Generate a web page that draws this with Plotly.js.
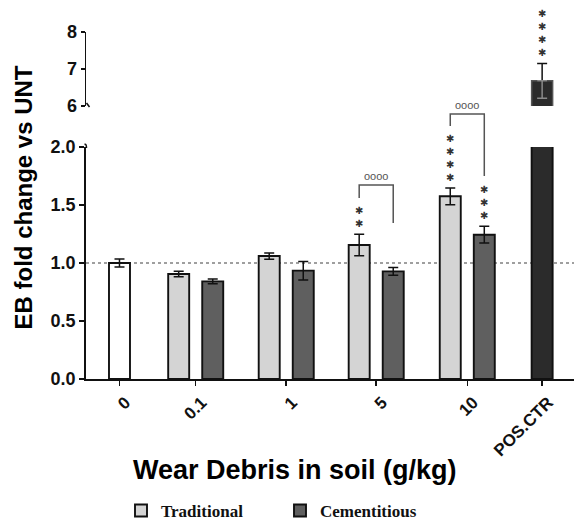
<!DOCTYPE html>
<html><head><meta charset="utf-8">
<script src="https://cdn.plot.ly/plotly-3.0.1.min.js"></script>
<style>html,body{margin:0;padding:0;background:#fff}#chart{width:574px;height:520px}</style>
</head><body><div id="chart"></div>
<script>
// ---------- data ----------
const doses = ['0', '0.1', '1', '5', '10', 'POS.CTR'];
const pairDoseIdx = [1, 2, 3, 4];              // doses that have Traditional / Cementitious bars
const untMean = [1.0];
const untErr = [0.034];
const tradMean = [0.905, 1.06, 1.155, 1.575];
const tradErr = [0.023, 0.027, 0.092, 0.072];
const cemMean = [0.842, 0.934, 0.928, 1.244];
const cemErr = [0.02, 0.08, 0.034, 0.072];
const posMean = [6.68];
const posErr = [0.47];
const tradStars = [0, 0, 2, 4];
const cemStars = [0, 0, 0, 3];
const posStars = 4;
const compLabel = ['', '', 'oooo', 'oooo'];   // Traditional vs Cementitious

// ---------- layout constants ----------
const W = 574, H = 520;
const M = {l: 86, r: 0, t: 32, b: 141};
const plotW = W - M.l - M.r, plotH = H - M.t - M.b;
const slotPos = [0, 0.842, 1.842, 2.836, 3.842, 4.669];
const xRange = [-0.370, 5.021];
const pairOff = 0.188, barW = 0.232;
const lowDom = [0, 0.6686], upDom = [0.7867, 1];
const lowRange = [0, 2], upRange = [6, 8];
// bracket levels (lower-axis units): [left leg end, top, right leg end]
const bracketLv = [null, null, [1.560, 1.672, 1.345], [2.181, 2.284, 1.75]];

const lowToPaper = v => lowDom[0] + (v - lowRange[0]) / (lowRange[1] - lowRange[0]) * (lowDom[1] - lowDom[0]);
const pxX = px => (px - M.l) / plotW;
const pxY = py => (H - M.b - py) / plotH;

const FONT = 'Liberation Sans, Arial, sans-serif';
const tradX = pairDoseIdx.map(i => slotPos[i] - pairOff);
const cemX = pairDoseIdx.map(i => slotPos[i] + pairOff);
const outline = {color: '#111', width: 1.9};
const eb = (arr, extra) => Object.assign({type: 'data', array: arr, visible: true, color: '#111', thickness: 1.5, width: 5}, extra || {});

const traces = [
  {type: 'bar', name: 'UNT', x: [slotPos[0]], y: untMean, width: barW, showlegend: false,
   marker: {color: '#ffffff', line: outline}, error_y: eb(untErr), hoverinfo: 'y'},
  {type: 'bar', name: 'Traditional', x: tradX, y: tradMean, width: barW,
   marker: {color: '#d4d4d4', line: outline}, error_y: eb(tradErr)},
  {type: 'bar', name: 'Cementitious', x: cemX, y: cemMean, width: barW,
   marker: {color: '#5f5f5f', line: outline}, error_y: eb(cemErr)},
  {type: 'bar', name: 'POS.CTR', x: [slotPos[5]], y: posMean, width: barW, showlegend: false,
   marker: {color: '#2b2b2b', line: outline}},
  {type: 'bar', name: 'POS.CTR', x: [slotPos[5]], y: posMean, width: barW, showlegend: false,
   xaxis: 'x', yaxis: 'y2', marker: {color: '#2b2b2b', line: {color: '#555', width: 1.5}},
   error_y: eb(posErr, {symmetric: false, arrayminus: [0]})},
  {type: 'scatter', mode: 'markers', x: [slotPos[5]], y: posMean, showlegend: false, hoverinfo: 'skip',
   xaxis: 'x', yaxis: 'y2', marker: {size: 1, opacity: 0},
   error_y: {type: 'data', symmetric: false, array: [0], arrayminus: posErr, color: '#8a8a8a', thickness: 1.5, width: 5}}
];

const annotations = [];
const shapes = [];
const starFont = {family: 'DejaVu Sans, sans-serif', size: 10, color: '#333'};
function addStars(x, yref, yTop, n) {
  if (!n) return;
  annotations.push({x: x, y: yTop, xref: 'x', yref: yref, text: Array(n).fill('\u2731').join('<br>'),
    showarrow: false, xanchor: 'center', yanchor: 'bottom', yshift: 3, font: starFont});
}
pairDoseIdx.forEach((d, k) => {
  addStars(tradX[k], 'y', tradMean[k] + tradErr[k], tradStars[k]);
  addStars(cemX[k], 'y', cemMean[k] + cemErr[k], cemStars[k]);
  const lv = bracketLv[k];
  if (lv) {
    shapes.push({type: 'path', xref: 'x', yref: 'paper',
      path: `M ${tradX[k]} ${lowToPaper(lv[0])} L ${tradX[k]} ${lowToPaper(lv[1])} L ${cemX[k]} ${lowToPaper(lv[1])} L ${cemX[k]} ${lowToPaper(lv[2])}`,
      line: {color: '#555', width: 1.5}});
    annotations.push({x: slotPos[d], y: lowToPaper(lv[1]), xref: 'x', yref: 'paper', text: compLabel[k],
      showarrow: false, xanchor: 'center', yanchor: 'bottom', yshift: 1,
      font: {family: FONT, size: 11, color: '#555'}});
  }
});
addStars(slotPos[5], 'y2', posMean[0] + posErr[0], posStars);

// reference line at 1.0
shapes.push({type: 'line', xref: 'paper', yref: 'y', x0: 0, x1: 1, y0: 1, y1: 1, layer: 'below',
  line: {color: '#808080', width: 1.3, dash: 'dot'}});
// axis break marks
shapes.push({type: 'line', xref: 'paper', yref: 'paper', x0: pxX(86.5), y0: pxY(103), x1: pxX(89.5), y1: pxY(107), line: {color: '#111', width: 1.5}});
shapes.push({type: 'path', xref: 'paper', yref: 'paper',
  path: `M ${pxX(86.5)} ${pxY(148)} Q ${pxX(86.5)} ${pxY(143.5)} ${pxX(84.5)} ${pxY(144.5)}`, line: {color: '#111', width: 1.5}});

// axis titles
annotations.push({xref: 'paper', yref: 'paper', x: pxX(23), y: pxY(197.5), text: 'EB fold change vs UNT', textangle: -90,
  showarrow: false, xanchor: 'center', yanchor: 'middle', font: {family: FONT, size: 24, weight: 'bold', color: '#000'}});
annotations.push({xref: 'paper', yref: 'paper', x: pxX(294.6), y: pxY(470), text: 'Wear Debris in soil (g/kg)',
  showarrow: false, xanchor: 'center', yanchor: 'middle', font: {family: FONT, size: 27, weight: 'bold', color: '#000'}});

const tickFont = {family: FONT, size: 18, weight: 'bold', color: '#111'};
const layout = {
  width: W, height: H,
  margin: {l: M.l, r: M.r, t: M.t, b: M.b, autoexpand: false},
  paper_bgcolor: '#fff', plot_bgcolor: 'rgba(0,0,0,0)',
  barmode: 'overlay',
  xaxis: {range: xRange, tickvals: slotPos, ticktext: doses, tickangle: -45, showgrid: false, zeroline: false,
    showline: true, linecolor: '#111', linewidth: 1.8, ticks: 'outside', ticklen: 5, tickwidth: 1.5, tickcolor: '#111',
    ticklabelshift: 6,
    tickfont: {family: FONT, size: 17, weight: 'bold', color: '#111'}, anchor: 'y', fixedrange: true},
  yaxis: {domain: lowDom, range: lowRange, dtick: 0.5, tickformat: '.1f', showgrid: false, zeroline: false,
    showline: true, linecolor: '#111', linewidth: 1.8, ticks: 'outside', ticklen: 5, tickwidth: 1.5, tickcolor: '#111',
    tickfont: tickFont, anchor: 'x'},
  yaxis2: {domain: upDom, range: upRange, tickvals: [6, 7, 8], showgrid: false, zeroline: false,
    showline: true, linecolor: '#111', linewidth: 1.5, ticks: 'outside', ticklen: 4, tickwidth: 1.5, tickcolor: '#111',
    tickfont: tickFont, anchor: 'x'},
  legend: {orientation: 'h', x: pxX(121), xanchor: 'left', y: pxY(511), yanchor: 'middle',
    font: {family: 'Liberation Serif, Times New Roman, serif', size: 17, weight: 'bold', color: '#111'},
    entrywidth: 114, bgcolor: 'rgba(0,0,0,0)'},
  showlegend: true,
  shapes: shapes,
  annotations: annotations
};

Plotly.newPlot('chart', traces, layout, {staticPlot: true, displayModeBar: false});
</script>
</body></html>
